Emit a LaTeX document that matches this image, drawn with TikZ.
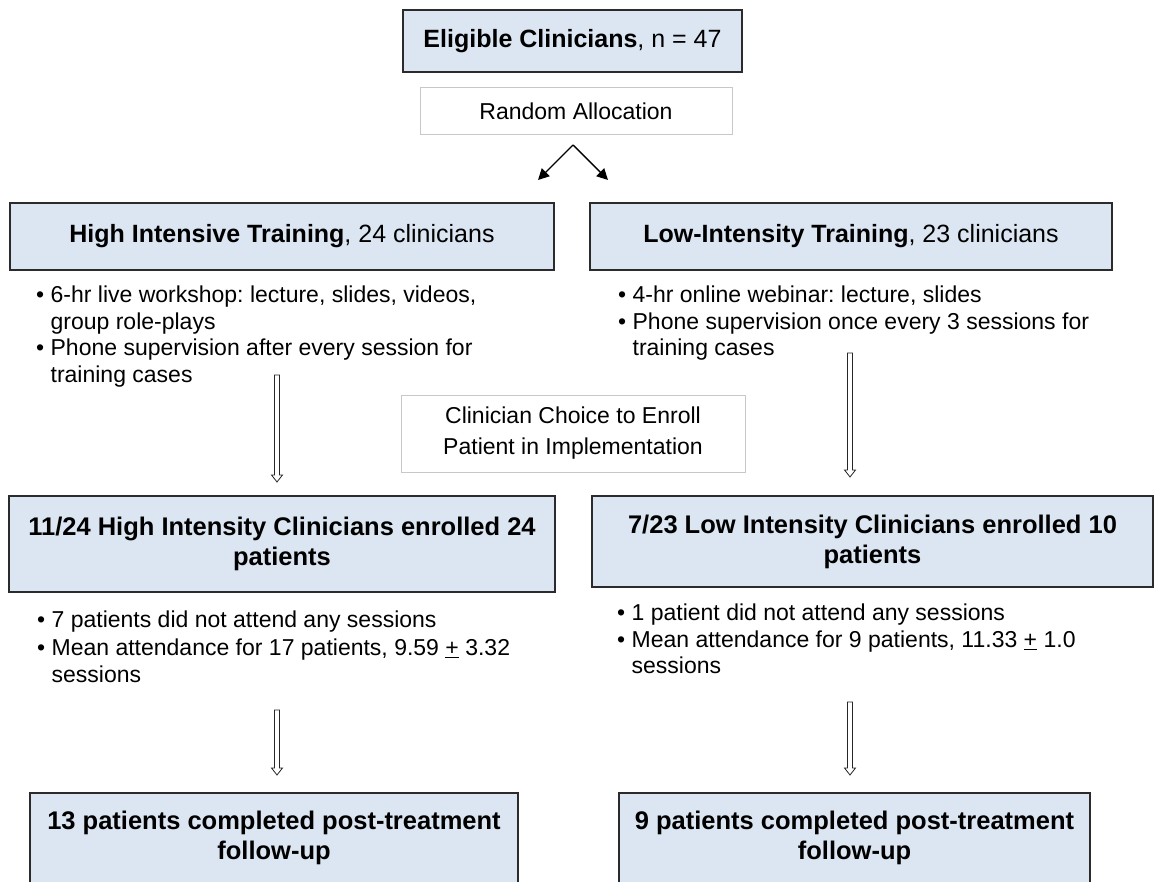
\documentclass[tikz,border=0pt]{standalone}
\usepackage{fontspec}
\setmainfont{Liberation Sans}
\usetikzlibrary{arrows.meta,calc}
\definecolor{boxblue}{HTML}{DCE6F2}
\definecolor{boxline}{HTML}{2B2B2B}
\definecolor{greyline}{HTML}{C8C8C8}
\tikzset{
	bluebox/.style={draw=boxline, line width=2pt, fill=boxblue, align=center, inner sep=0pt, font=\fontsize{25}{30}\selectfont},
	greybox/.style={draw=greyline, line width=1pt, fill=white, align=center, inner sep=0pt, font=\fontsize{23}{31}\selectfont},
	bultext/.style={anchor=north west, align=left, inner sep=0pt, font=\fontsize{23}{26.5}\selectfont},
	splitarrow/.style={line width=1.4pt, -{Triangle[length=11pt,width=11pt]}}
}
\newcommand{\bul}{\textbullet\ }
\newcommand{\bulpad}{\phantom{\textbullet\ }}
% hollow downward arrow from #1 to the tip #2
\def\hollowarrow(#1)(#2){\draw[line width=0.8pt, draw=black!85, fill=white, line join=miter] ($(#1)+(-2.5,0)$) -- ($(#2)+(-2.5,-7)$) -- ($(#2)+(-5.5,-7)$) -- (#2) -- ($(#2)+(5.5,-7)$) -- ($(#2)+(2.5,-7)$) -- ($(#1)+(2.5,0)$) -- cycle;}

\begin{document}
\frenchspacing
\begin{tikzpicture}[x=1pt, y=-1pt]
			%%%%% START %%%%%
			\useasboundingbox (0, 0) rectangle (1156, 882);
			\clip (0, 0) rectangle (1156, 882);
			
			\node[bluebox, minimum width=339, minimum height=62] (elig) at (572.5, 41) {\textbf{Eligible Clinicians}, n = 47};
			\node[greybox, minimum width=312, minimum height=47] (rand) at (576, 111.5) {Random Allocation};
			
			\coordinate (apex) at (573, 145);
			\coordinate (lefttip) at (538, 180);
			\coordinate (righttip) at (608, 180);
			\draw[splitarrow] (apex) -- (lefttip);
			\draw[splitarrow] (apex) -- (righttip);
			
			\node[bluebox, minimum width=544, minimum height=67] (hi) at (282, 236.5) {\textbf{High Intensive Training}, 24 clinicians};
			\node[bluebox, minimum width=522, minimum height=67] (lo) at (851, 236.5) {\textbf{Low-Intensity Training}, 23 clinicians};
			
			\node[bultext] (hibul) at (36, 286) {\bul 6-hr live workshop: lecture, slides, videos,\\ \bulpad group role-plays\\ \bul Phone supervision after every session for\\ \bulpad training cases};
			\node[bultext] (lobul) at (618, 286) {\bul 4-hr online webinar: lecture, slides\\ \bul Phone supervision once every 3 sessions for\\ \bulpad training cases};
			
			\node[greybox, minimum width=344, minimum height=77] (choice) at (573, 433.5) {Clinician Choice to Enroll\\ Patient in Implementation};
			
			\node[bluebox, minimum width=546, minimum height=96, font=\bfseries\fontsize{25.5}{30}\selectfont] (hipat) at (282, 544) {11/24 High Intensity Clinicians enrolled 24\\ patients};
			\node[bluebox, minimum width=561, minimum height=91, font=\bfseries\fontsize{25.5}{30}\selectfont] (lopat) at (872.5, 541.5) {7/23 Low Intensity Clinicians enrolled 10\\ patients};
			
			\coordinate (hiarrtop) at (277, 375);
			\coordinate (loarrtop) at (850, 353);
			\coordinate (hiarrend) at ($(hiarrtop |- hipat.north)+(0,-13)$);
			\coordinate (loarrend) at ($(loarrtop |- lopat.north)+(0,-18)$);
			\hollowarrow(hiarrtop)(hiarrend)
			\hollowarrow(loarrtop)(loarrend)
			
			\node[bultext, font=\fontsize{23}{27.5}\selectfont] (hibultwo) at (37, 611) {\bul 7 patients did not attend any sessions\\ \bul Mean attendance for 17 patients, 9.59 \underline{+} 3.32\\ \bulpad sessions};
			\node[bultext, font=\fontsize{23}{26.5}\selectfont] (lobultwo) at (617, 604) {\bul 1 patient did not attend any sessions\\ \bul Mean attendance for 9 patients, 11.33 \underline{+} 1.0\\ \bulpad sessions};
			
			\node[bluebox, minimum width=488, minimum height=110, anchor=north] (hidone) at (274, 792) {};
			\node[bluebox, minimum width=471, minimum height=110, anchor=north] (lodone) at (854.5, 792) {};
			\node[align=center, inner sep=0pt, font=\bfseries\fontsize{25.5}{30}\selectfont] (hidonetext) at (274, 838) {13 patients completed post-treatment\\ follow-up};
			\node[align=center, inner sep=0pt, font=\bfseries\fontsize{25.5}{30}\selectfont] (lodonetext) at (854.5, 838) {9 patients completed post-treatment\\ follow-up};
			
			\coordinate (hiarrtwo) at (277, 710);
			\coordinate (loarrtwo) at (850, 702);
			\coordinate (hiarrtwoend) at ($(hiarrtwo |- hidone.north)+(0,-17)$);
			\coordinate (loarrtwoend) at ($(loarrtwo |- lodone.north)+(0,-17)$);
			\hollowarrow(hiarrtwo)(hiarrtwoend)
			\hollowarrow(loarrtwo)(loarrtwoend)
			
			%%%%% END %%%%%
\end{tikzpicture}
\end{document}
